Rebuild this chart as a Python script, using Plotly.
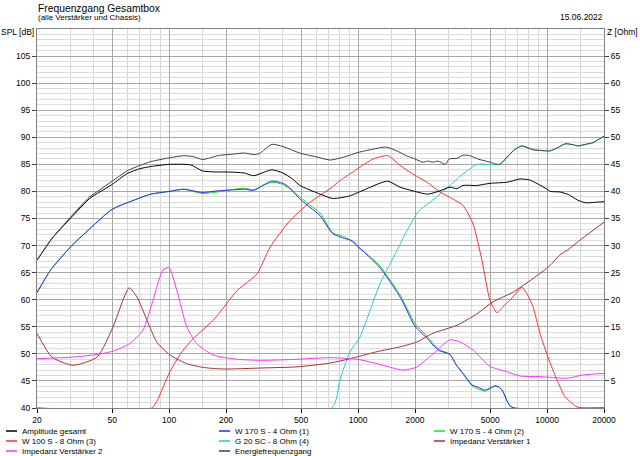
import plotly.graph_objects as go

# ---------------- data ----------------
f_energie = [20, 24, 30, 38, 43, 50, 60, 70, 80, 100, 120, 135, 150, 165, 180, 220, 250, 280, 300, 350,
             400, 450, 500, 600, 710, 850, 1000, 1200, 1400, 1600, 1800, 2000, 2200, 2330, 2480, 2650,
             2900, 3030, 3330, 3590, 3900, 4290, 4990, 5200, 5600, 6620, 7320, 8400, 9800, 10400, 11400,
             12500, 13800, 14500, 16000, 17500, 18300, 20000]
spl_energie = [67.3, 71.3, 75.2, 79.0, 80.3, 81.9, 83.8, 84.8, 85.5, 86.2, 86.6, 86.4, 85.9, 86.2, 86.6, 86.9,
               87.1, 86.8, 87.0, 88.7, 88.3, 87.6, 87.0, 86.4, 85.8, 86.4, 87.2, 87.8, 88.2, 87.5, 86.6, 86.0,
               85.4, 85.6, 85.4, 85.6, 85.0, 86.0, 86.1, 86.7, 86.6, 86.0, 85.4, 85.2, 85.0, 87.5, 88.4, 87.7,
               87.5, 87.5, 88.1, 88.8, 88.6, 88.4, 88.7, 89.0, 89.4, 90.2]

f_amp = [20, 24, 30, 38, 43, 50, 60, 70, 80, 100, 130, 150, 175, 200, 250, 280, 320, 350, 400, 450, 492,
         630, 734, 906, 1110, 1430, 1667, 1950, 2340, 2700, 3060, 3330, 3590, 4256, 4990, 6130, 7190, 8100,
         9900, 10400, 11700, 13000, 14500, 16000, 18000, 20000]
spl_amp = [67.3, 71.3, 75.0, 78.7, 79.9, 81.3, 83.3, 84.2, 84.6, 85.0, 84.9, 83.8, 83.6, 83.6, 83.4, 82.9,
           83.6, 84.0, 83.4, 82.3, 81.1, 79.5, 78.7, 79.2, 80.5, 81.9, 80.8, 80.1, 79.5, 80.1, 80.8, 80.5,
           81.1, 81.1, 81.5, 81.7, 82.3, 82.1, 80.5, 80.0, 79.9, 79.4, 78.4, 77.9, 78.0, 78.1]

f_w170_1 = [20, 23.5, 30, 38, 49, 55, 60, 70, 80, 100, 120, 150, 180, 220, 250, 280, 320, 350, 400, 430,
            492, 560, 630, 734, 850, 930, 1030, 1100, 1300, 1500, 1700, 2000, 2300, 2650, 3060, 3300, 3590,
            4000, 4260, 4700, 5000, 5300, 5600, 5850, 6100, 6360, 6700, 20000]
spl_w170_1 = [61.3, 65.4, 69.7, 73.1, 76.5, 77.4, 77.9, 78.8, 79.5, 80.0, 80.4, 79.8, 80.1, 80.3, 80.4, 80.2,
              81.3, 81.9, 81.5, 80.8, 78.6, 77.0, 75.5, 72.2, 71.3, 70.9, 69.4, 68.5, 66.0, 63.0, 60.0, 55.1,
              53.0, 50.7, 49.9, 48.0, 46.4, 44.3, 43.9, 43.3, 43.7, 44.1, 43.8, 43.0, 41.5, 40.4, 40.0, 40.0]

f_w170_2 = [20, 23.5, 30, 38, 49, 55, 60, 70, 80, 100, 120, 150, 180, 220, 250, 280, 320, 350, 400, 430,
            492, 560, 630, 734, 850, 930, 1030, 1100, 1300, 1500, 1700, 2000, 2300, 2650, 3060, 3300, 3590,
            4000, 4260, 4700, 5000, 5300, 5600, 5850, 6100, 6360, 6700, 20000]
spl_w170_2 = [61.3, 65.4, 69.7, 73.1, 76.5, 77.4, 77.9, 78.8, 79.5, 80.0, 80.4, 79.6, 79.9, 80.4, 80.6, 80.3,
              81.2, 81.7, 81.3, 80.6, 79.0, 77.4, 76.0, 72.4, 71.6, 70.7, 69.3, 68.6, 66.3, 63.3, 60.4, 55.6,
              53.4, 50.9, 49.9, 48.0, 46.3, 44.1, 43.6, 43.1, 43.6, 44.0, 43.8, 43.0, 41.5, 40.4, 40.0, 40.0]

f_w100 = [20, 81, 86, 101, 117, 134, 171, 202, 229, 292, 342, 436, 556, 710, 802, 987, 1200, 1440, 1667,
          1950, 2313, 2711, 3178, 3590, 4055, 4520, 4987, 5432, 5840, 6604, 7340, 7830, 8420, 9170, 10110,
          11270, 12440, 14390, 16000, 20000]
spl_w100 = [40.0, 40.0, 41.2, 46.7, 50.4, 52.8, 56.2, 59.3, 61.7, 64.8, 69.7, 74.6, 78.0, 80.5, 82.0, 84.1,
            86.0, 86.6, 84.8, 83.2, 81.7, 79.9, 78.6, 77.4, 74.0, 67.3, 59.9, 57.6, 58.7, 60.5, 62.3, 61.1,
            58.7, 53.8, 49.4, 45.2, 42.1, 40.2, 40.0, 40.0]

f_g20 = [20, 725, 802, 906, 1023, 1156, 1306, 1475, 1607, 1815, 2075, 2400, 2711, 3062, 3345, 3590, 4256,
         4987, 5640, 6604, 7340, 8420, 9800, 10400, 11400, 12500, 13800, 14500, 16000, 17500, 18300, 20000]
spl_g20 = [40.0, 40.0, 45.2, 50.4, 53.1, 58.0, 63.0, 66.6, 69.1, 72.8, 76.2, 78.0, 79.5, 81.1, 82.3, 83.2,
           85.0, 85.0, 85.0, 87.5, 88.4, 87.8, 87.5, 87.5, 88.1, 88.8, 88.6, 88.4, 88.7, 89.0, 89.4, 90.2]

f_imp1 = [20, 24, 31, 41.6, 50.5, 57, 61.4, 67.6, 76.4, 86, 101, 124, 151, 193, 314, 475, 710, 906, 1259,
          1667, 2050, 2490, 3345, 4256, 5175, 6604, 8420, 10350, 11700, 12740, 14930, 20000]
z_imp1 = [13.8, 9.4, 7.9, 9.4, 15.0, 19.9, 22.2, 20.5, 16.2, 12.2, 9.8, 8.2, 7.5, 7.2, 7.4, 7.6, 8.3, 9.1,
          10.4, 11.3, 12.2, 13.8, 15.3, 17.4, 19.6, 21.4, 23.9, 26.3, 28.3, 29.1, 31.0, 34.3]

f_imp2 = [20, 31, 41.6, 50.5, 62, 72.8, 82.2, 92.8, 99.8, 110, 124, 140, 171, 229, 314, 475, 710, 987, 1259,
          1729, 2050, 2490, 3062, 3460, 4055, 4987, 6130, 7192, 9170, 12740, 15480, 20000]
z_imp2 = [9.1, 9.4, 9.9, 10.5, 11.9, 14.4, 19.9, 25.5, 25.9, 21.7, 15.0, 11.9, 9.8, 9.0, 8.8, 9.0, 9.3, 9.0,
          8.2, 7.0, 7.6, 10.0, 12.6, 12.2, 10.7, 7.7, 6.7, 5.9, 5.8, 5.5, 6.1, 6.4]

x_major = [20, 50, 100, 200, 500, 1000, 2000, 5000, 10000, 20000]
x_minor = [30, 40, 60, 70, 80, 90, 150, 300, 400, 600, 700, 800, 900, 1500, 3000, 4000,
           6000, 7000, 8000, 9000, 15000]
spl_ticks = list(range(40, 110, 5))
z_ticks = list(range(5, 70, 5))

legend_names = ["Amplitude gesamt", "W 170 S - 4 Ohm (1)", "W 170 S - 4 Ohm (2)",
                "W 100 S - 8 Ohm (3)", "G 20 SC - 8 Ohm (4)", "Impedanz Verstärker 1",
                "Impedanz Verstärker 2", "Energiefrequenzgang"]
legend_colors = ["#000000", "#2a2aff", "#22e022", "#ff3030", "#22d0d0", "#a03434", "#ff33ff", "#404040"]

# ---------------- figure ----------------
FONT = "Liberation Sans, Arial, sans-serif"
L, R, T, B = 37, 36, 29, 48
W, H = 640, 456
PW, PH = W - L - R, H - T - B

def px(x):
    return (x - L) / PW

def py(y):
    return (H - B - y) / PH

fig = go.Figure()

def add(xs, ys, name_idx, yaxis="y"):
    fig.add_trace(go.Scatter(x=xs, y=ys, mode="lines", yaxis=yaxis,
                             line=dict(color=legend_colors[name_idx], width=1,
                                       shape="spline", smoothing=0.6),
                             name=legend_names[name_idx], showlegend=False, hoverinfo="skip"))

# draw order (bottom -> top)
add(f_g20, spl_g20, 4)
add(f_w100, spl_w100, 3)
add(f_w170_2, spl_w170_2, 2)
add(f_w170_1, spl_w170_1, 1)
add(f_imp1, z_imp1, 5, "y2")
add(f_imp2, z_imp2, 6, "y2")
add(f_amp, spl_amp, 0)
add(f_energie, spl_energie, 7)

tickfont = dict(family=FONT, size=8.5, color="#000")

fig.update_layout(
    width=W, height=H,
    margin=dict(l=L, r=R, t=T, b=B, pad=0, autoexpand=False),
    paper_bgcolor="white", plot_bgcolor="white",
    showlegend=False,
    xaxis=dict(type="log", range=[1.30103, 4.30103], tickmode="array",
               tickvals=x_major, ticktext=[str(v) for v in x_major],
               showgrid=True, gridcolor="#a8a8a8", gridwidth=1,
               minor=dict(tickmode="array", tickvals=x_minor, showgrid=True,
                          gridcolor="#d6d6d6", ticklen=0),
               ticks="outside", ticklen=4, tickcolor="#000", tickfont=tickfont,
               showline=True, linecolor="#808080", linewidth=1, mirror=True,
               zeroline=False, fixedrange=True, automargin=False),
    yaxis=dict(range=[40, 110], tickmode="array", tickvals=spl_ticks,
               showgrid=True, gridcolor="#a8a8a8", gridwidth=1,
               minor=dict(dtick=1, showgrid=True, gridcolor="#dcdcdc", ticklen=0),
               ticks="outside", ticklen=4, tickcolor="#404040", tickfont=tickfont,
               showline=True, linecolor="#808080", linewidth=1, mirror=True,
               zeroline=False, fixedrange=True, automargin=False),
    yaxis2=dict(range=[0, 70], overlaying="y", side="right", tickmode="array",
                tickvals=z_ticks, showgrid=False, zeroline=False,
                ticks="outside", ticklen=4, tickcolor="#404040", tickfont=tickfont,
                showline=False, fixedrange=True, automargin=False),
)

ann = []
def text(x, y, s, size=8.5, xanchor="left"):
    ann.append(dict(x=px(x), y=py(y), xref="paper", yref="paper", text=s, showarrow=False,
                    xanchor=xanchor, yanchor="middle", font=dict(family=FONT, size=size, color="#000"),
                    borderpad=0))

text(37, 8, "Frequenzgang Gesamtbox", size=10.3)
text(37, 18, "(alle Verstärker und Chassis)", size=8)
text(604, 17, "15.06.2022", xanchor="right")
text(0, 31.5, "SPL [dB]")
text(606, 31.5, "Z [Ohm]")

shapes = []
col_line_x = [6, 219, 434]
row_y = [431, 441, 451]
for i, (nm, c) in enumerate(zip(legend_names, legend_colors)):
    r, k = divmod(i, 3)
    x0 = col_line_x[k]
    y0 = row_y[r]
    shapes.append(dict(type="line", xref="paper", yref="paper",
                       x0=px(x0), x1=px(x0 + 11), y0=py(y0), y1=py(y0),
                       line=dict(color=c, width=1.5)))
    text(x0 + 15, y0, nm, size=8)

fig.update_layout(annotations=ann, shapes=shapes)

fig.write_html("out.html", config={"displayModeBar": False},
               post_script="document.body.style.margin='0';document.body.style.overflow='hidden';")
